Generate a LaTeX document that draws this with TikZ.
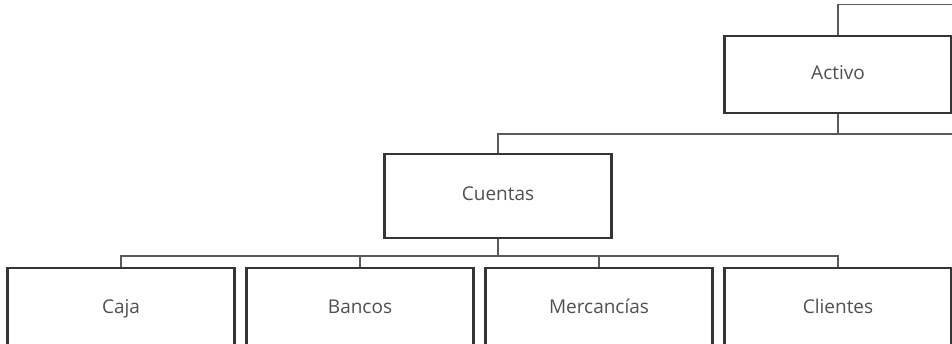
\documentclass[tikz,border=0pt]{standalone}
\usepackage{fontspec}
\setsansfont{Open Sans}
\usepackage{tikz}
\usetikzlibrary{calc}
\definecolor{boxline}{HTML}{353535}
\definecolor{wireline}{HTML}{5A5A5A}
\definecolor{labeltext}{HTML}{505050}
\tikzset{
  cuentanode/.style = {align=center, inner sep=0pt, text centered,
    font=\sffamily\fontsize{19pt}{22pt}\selectfont, text=labeltext,
    text height=14pt, text depth=4pt},
  cta_box/.style = {cuentanode, rectangle, draw=boxline, line width=2.2pt,
    fill=white, minimum width=227pt, minimum height=80pt},
  bus edge/.style = {edge from parent path={(\tikzparentnode.south)
    -- ++(0,-#1) -| (\tikzchildnode.north)}}
}

\begin{document}
\begin{tikzpicture}[x=1pt,y=1pt,edge from parent/.style={draw=wireline,line width=1.2pt},
  level 1/.style={level distance=121.5pt, bus edge=20pt},
  level 2/.style={level distance=112pt, sibling distance=239pt, bus edge=17pt}]
\useasboundingbox (0,0) rectangle (952,-344);

\node[cta_box, minimum height=77pt] (activo) at (838,-74.5) {Activo}
 child[xshift=-340pt]{
    node[cta_box, minimum height=84pt] (cuentas) {Cuentas}
    child[xshift=-18.5pt]{node[cta_box] (caja) {Caja}}
    child[xshift=-18.5pt]{node[cta_box] (bancos) {Bancos}}
    child[xshift=-18.5pt]{node[cta_box] (mercancias) {Mercancías}}
    child[xshift=-18.5pt]{node[cta_box] (clientes) {Clientes}} };

% ramas que siguen fuera del recorte
\draw[draw=wireline, line width=1.2pt] (activo.north) |- ++(130pt,30pt);
\draw[draw=wireline, line width=1.2pt] (activo.south) -- ++(0,-20pt) -- ++(130pt,0);
\end{tikzpicture}
\end{document}
